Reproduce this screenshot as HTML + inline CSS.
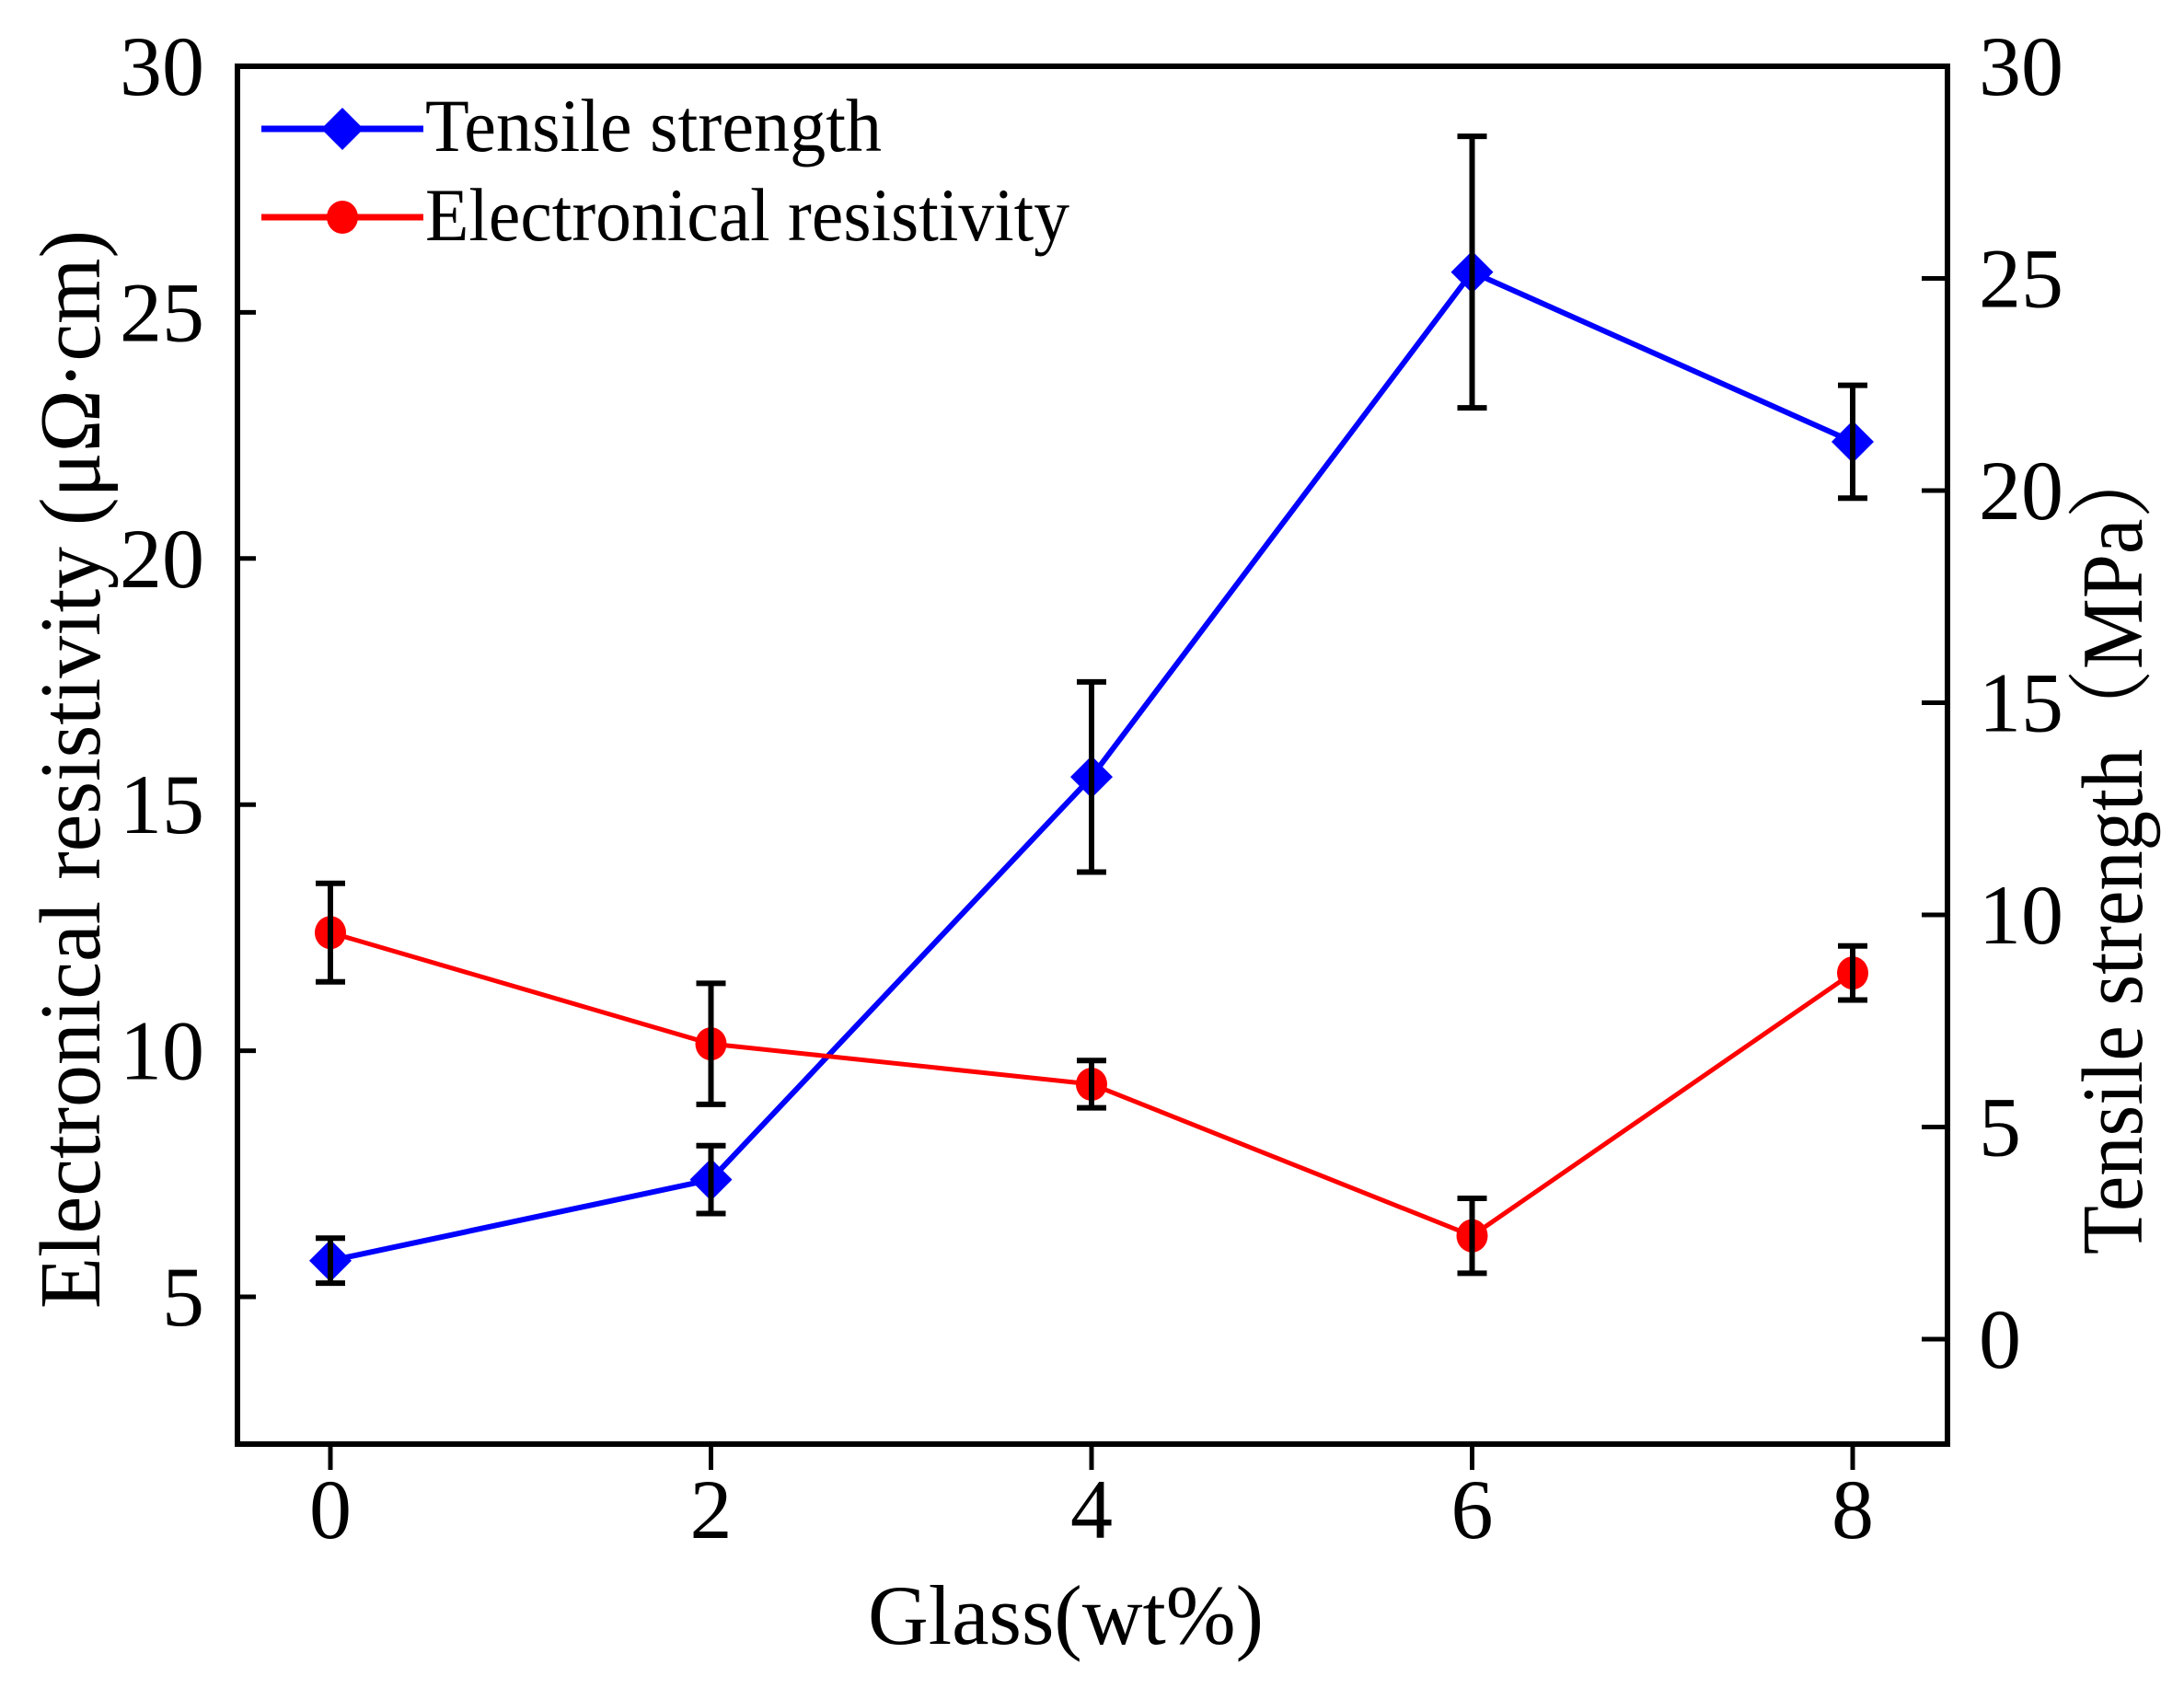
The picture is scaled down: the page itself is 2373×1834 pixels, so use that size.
<!DOCTYPE html>
<html><head><meta charset="utf-8"><style>
html,body{margin:0;padding:0;background:#fff;}
svg{display:block;font-family:"Liberation Serif",serif;}
</style></head><body>
<svg id="chart" width="2373" height="1834" viewBox="0 0 2373 1834"></svg>
<script>
const categories = [0, 2, 4, 6, 8];
const tensileValues = [1.85, 3.76, 13.25, 25.15, 21.15];
const tensileErrors = [0.53, 0.8, 2.24, 3.2, 1.33];
const resistValues = [12.4, 10.14, 9.32, 6.24, 11.58];
const resistErrors = [1.0, 1.23, 0.48, 0.76, 0.55];
const xTicks = [0, 2, 4, 6, 8];
const leftTicks = [5, 10, 15, 20, 25, 30];
const rightTicks = [0, 5, 10, 15, 20, 25, 30];

const L = 258, R = 2116, T = 72, B = 1569;
const xs = v => 359 + v * (2013 - 359) / 8;
const yl = v => 72 + (30 - v) * (1409 - 72) / 25;
const yr = v => 1455 - v * (1455 - 72) / 30;
const svg = document.getElementById('chart');
const NS = 'http://www.w3.org/2000/svg';
function mk(tag, attrs, parent) {
  const e = document.createElementNS(NS, tag);
  for (const k in attrs) e.setAttribute(k, attrs[k]);
  (parent || svg).appendChild(e);
  return e;
}

const frame = mk('rect', {x: L, y: T, width: R - L, height: B - T, fill: 'none', stroke: '#000', 'stroke-width': 6});



xTicks.forEach(v => {
  const t = mk('line', {x1: xs(v), x2: xs(v), y1: B, y2: B + 28, stroke: '#000', 'stroke-width': 5});
  
  
  const lb = mk('text', {x: xs(v), y: 1671, 'font-size': 92, 'text-anchor': 'middle'});
  lb.textContent = v;
  
  
});
leftTicks.forEach(v => {
  if (v !== 30) {
    const t = mk('line', {x1: L, x2: L + 20, y1: yl(v), y2: yl(v), stroke: '#000', 'stroke-width': 5});
    
    
  }
  const lb = mk('text', {x: 222, y: yl(v) + 31, 'font-size': 92, 'text-anchor': 'end'});
  lb.textContent = v;
  
  
});
rightTicks.forEach(v => {
  if (v !== 30) {
    const t = mk('line', {x1: R - 28, x2: R, y1: yr(v), y2: yr(v), stroke: '#000', 'stroke-width': 5});
    
    
  }
  const lb = mk('text', {x: 2150, y: yr(v) + 31, 'font-size': 92, 'text-anchor': 'start'});
  lb.textContent = v;
  
  
});

const xt = mk('text', {x: 1158, y: 1786, 'font-size': 92, 'text-anchor': 'middle', textLength: 430, lengthAdjust: 'spacingAndGlyphs'});
xt.textContent = 'Glass(wt%)';


const ylt = mk('text', {x: 0, y: 0, 'font-size': 94, 'text-anchor': 'middle', textLength: 1172, lengthAdjust: 'spacingAndGlyphs', transform: 'translate(108,836) rotate(-90)'});
ylt.textContent = 'Electronical resistivity (μΩ·cm)';


const yrt = mk('text', {x: 0, y: 0, 'font-size': 94, 'text-anchor': 'middle', textLength: 886, lengthAdjust: 'spacingAndGlyphs', transform: 'translate(2327,920) rotate(-90)'});
yrt.textContent = 'Tensile strength（MPa）';


yrt.style.fontFamily = '"Liberation Serif","Noto Serif CJK SC",serif';

const tPts = categories.map((c, i) => xs(c) + ',' + yr(tensileValues[i])).join(' ');
const tl = mk('polyline', {points: tPts, fill: 'none', stroke: '#0000ff', 'stroke-width': 6});


const rPts = categories.map((c, i) => xs(c) + ',' + yl(resistValues[i])).join(' ');
const rl = mk('polyline', {points: rPts, fill: 'none', stroke: '#ff0000', 'stroke-width': 5});



function diamond(cx, cy, s) { return `${cx},${cy - s} ${cx + s},${cy} ${cx},${cy + s} ${cx - s},${cy}`; }
categories.forEach((c, i) => {
  const m = mk('polygon', {points: diamond(xs(c), yr(tensileValues[i]), 23), fill: '#0000ff'});
  
  
  const r = mk('ellipse', {cx: xs(c), cy: yl(resistValues[i]), rx: 17, ry: 18, fill: '#ff0000'});
  
  
});
function errbar(x, y1, y2, name) {
  const g = mk('g', {stroke: '#000', 'stroke-width': 6});
  
  
  mk('line', {x1: x, x2: x, y1: y1, y2: y2}, g);
  mk('line', {x1: x - 16, x2: x + 16, y1: y1, y2: y1}, g);
  mk('line', {x1: x - 16, x2: x + 16, y1: y2, y2: y2}, g);
}
categories.forEach((c, i) => {
  errbar(xs(c), yr(tensileValues[i] + tensileErrors[i]), yr(tensileValues[i] - tensileErrors[i]), 'tensile-error-bar');
  errbar(xs(c), yl(resistValues[i] + resistErrors[i]), yl(resistValues[i] - resistErrors[i]), 'resistivity-error-bar');
});

const lg = mk('g', {});


mk('line', {x1: 284, x2: 460, y1: 140, y2: 140, stroke: '#0000ff', 'stroke-width': 7}, lg);
mk('polygon', {points: diamond(372, 140, 23), fill: '#0000ff'}, lg);
const l1 = mk('text', {x: 462, y: 164, 'font-size': 82, textLength: 496, lengthAdjust: 'spacingAndGlyphs'}, lg);
l1.textContent = 'Tensile strength';


mk('line', {x1: 284, x2: 460, y1: 236, y2: 236, stroke: '#ff0000', 'stroke-width': 7}, lg);
mk('ellipse', {cx: 372, cy: 236, rx: 17, ry: 18, fill: '#ff0000'}, lg);
const l2 = mk('text', {x: 462, y: 261, 'font-size': 82, textLength: 700, lengthAdjust: 'spacingAndGlyphs'}, lg);
l2.textContent = 'Electronical resistivity';


</script>
</body></html>
